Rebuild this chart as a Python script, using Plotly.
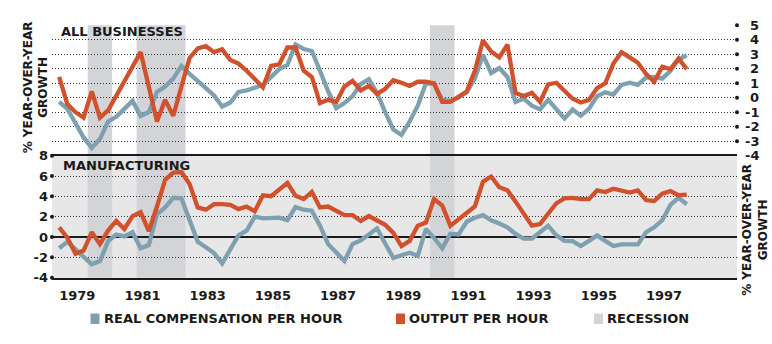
import numpy as np
import plotly.graph_objects as go

# Quarterly year-over-year growth, 1979Q1 - 1998Q2 (percent)
all_comp = [
    -0.29, -0.77, -1.75, -2.74,
    -3.46, -2.85, -1.64, -1.32,
    -0.77, -0.22, -1.25, -0.99,
    0.40, 0.77, 1.32, 2.19,
    1.64, 1.10, 0.66, 0.15,
    -0.61, -0.33, 0.40, 0.50,
    0.66, 0.88, 1.43, 1.97,
    2.25, 3.66, 3.36, 3.22,
    1.86, 0.44, -0.72, -0.37,
    0.11, 0.94, 1.27, 0.33,
    -0.99, -2.19, -2.57, -1.64,
    -0.55, 0.99, 0.95, -0.15,
    -0.22, 0.00, 0.37, 1.32,
    2.96, 1.69, 2.04, 1.43,
    -0.29, -0.07, -0.55, -0.81,
    -0.15, -0.77, -1.43, -0.81,
    -1.25, -0.77, 0.11, 0.37,
    0.22, 0.88, 1.03, 0.88,
    1.38, 1.43, 1.32, 1.86,
    2.63, 2.92,
]
all_output = [
    1.43, -0.44, -1.00, -1.38,
    0.44, -1.38, -0.88, 0.12,
    1.13, 2.14, 3.14, 0.75,
    -1.64, -0.15, -1.25, 0.77,
    2.74, 3.40, 3.55, 3.14,
    3.33, 2.60, 2.35, 1.86,
    1.30, 0.72, 2.20, 2.30,
    3.46, 3.46, 1.86, 1.43,
    -0.37, -0.15, -0.29, 0.77,
    1.16, 0.50, 0.81, 0.26,
    0.61, 1.20, 1.03, 0.81,
    1.10, 1.10, 0.99, -0.29,
    -0.29, 0.07, 0.42, 1.86,
    3.95, 3.18, 2.78, 3.66,
    0.33, 0.11, 0.33, -0.29,
    0.92, 1.03, 0.48, -0.07,
    -0.33, -0.15, 0.66, 0.99,
    2.35, 3.14, 2.78, 2.41,
    1.64, 1.10, 2.13, 1.97,
    2.70, 1.97,
]
mfg_comp = [
    -1.11, -0.47, -1.20, -1.96,
    -2.69, -2.37, -0.41, 0.25,
    0.06, 0.47, -1.11, -0.79,
    2.22, 2.91, 3.86, 3.80,
    1.74, -0.47, -1.01, -1.58,
    -2.59, -1.11, 0.16, 0.63,
    2.00, 1.84, 1.90, 1.90,
    1.65, 2.94, 2.69, 2.59,
    1.11, -0.70, -1.52, -2.37,
    -0.70, -0.32, 0.25, 0.85,
    -0.63, -2.06, -1.80, -1.55,
    -1.85, 0.79, -0.10, -1.11,
    0.32, 0.25, 1.50, 1.90,
    2.15, 1.65, 1.33, 0.95,
    0.30, -0.16, -0.16, 0.47,
    1.11, 0.16, -0.38, -0.41,
    -0.89, -0.38, 0.16, -0.38,
    -0.89, -0.73, -0.73, -0.73,
    0.47, 0.95, 1.65, 3.16,
    3.86, 3.23,
]
mfg_output = [
    0.95, -0.06, -1.65, -1.33,
    0.47, -0.70, 0.63, 1.58,
    0.79, 2.06, 2.44, 0.57,
    3.00, 5.63, 6.33, 6.39,
    5.22, 2.91, 2.69, 3.23,
    3.23, 3.16, 2.75, 3.00,
    2.53, 4.11, 4.02, 4.68,
    5.32, 4.05, 3.73, 4.43,
    2.91, 3.00, 2.53, 2.15,
    2.15, 1.58, 2.06, 1.58,
    1.20, 0.40, -0.89, -0.38,
    1.11, 1.42, 3.73, 3.10,
    1.11, 1.74, 2.37, 3.00,
    5.44, 5.95, 4.90, 4.59,
    3.48, 2.22, 1.11, 1.27,
    2.22, 3.32, 3.80, 3.86,
    3.73, 3.73, 4.59, 4.43,
    4.75, 4.53, 4.37, 4.59,
    3.64, 3.54, 4.27, 4.53,
    4.11, 4.18,
]

# Recessions (start, end) in fractional years
recessions = [(1980.0, 1980.75), (1981.5, 1983.0), (1990.5, 1991.25)]

year_labels = [1979, 1981, 1983, 1985, 1987, 1989, 1991, 1993, 1995, 1997]
top_ticks = [-4, -3, -2, -1, 0, 1, 2, 3, 4, 5]
bottom_ticks = [-4, -2, 0, 2, 4, 6, 8]

legend_names = ["REAL COMPENSATION PER HOUR", "OUTPUT PER HOUR", "RECESSION"]

# quarter midpoints
t = 1979.125 + 0.25 * np.arange(len(all_comp))

W, H = 772, 344
BLUE = "#7ea0af"
RED = "#d2512d"
GREY_BAND = "#d3d4d7"
PANEL_BG = "#e7e7e7"
INK = "#1a1a1a"
FONT = dict(family="DejaVu Sans", size=13, color=INK, weight="bold")
TITLE_FONT = dict(family="DejaVu Sans", size=12, color=INK, weight="bold")


def fx(x):
    return x / W


def fy(y):
    return 1 - y / H


X_LEFT, X_RIGHT = 52, 737
TOP_Y, MID_Y, BOT_Y = 19, 155.5, 283
XRANGE = [1978.905, 1999.917]

fig = go.Figure()

# top panel: all businesses
fig.add_trace(go.Scatter(x=t, y=all_comp, xaxis="x2", yaxis="y2", mode="lines",
                         line=dict(color=BLUE, width=4.3), showlegend=False))
fig.add_trace(go.Scatter(x=t, y=all_output, xaxis="x2", yaxis="y2", mode="lines",
                         line=dict(color=RED, width=4.3), showlegend=False))
# bottom panel: manufacturing
fig.add_trace(go.Scatter(x=t, y=mfg_comp, xaxis="x", yaxis="y", mode="lines",
                         line=dict(color=BLUE, width=4.3), showlegend=False))
fig.add_trace(go.Scatter(x=t, y=mfg_output, xaxis="x", yaxis="y", mode="lines",
                         line=dict(color=RED, width=4.3), showlegend=False))

# dots at the gridline ends
top_dot_ticks = [v for v in top_ticks if v > top_ticks[0]]
fig.add_trace(go.Scatter(x=[XRANGE[1]] * len(top_dot_ticks), y=top_dot_ticks,
                         xaxis="x2", yaxis="y2", mode="markers", cliponaxis=False,
                         marker=dict(color=INK, size=4), showlegend=False, hoverinfo="skip"))
fig.add_trace(go.Scatter(x=[XRANGE[0]] * len(bottom_ticks), y=bottom_ticks,
                         xaxis="x", yaxis="y", mode="markers", cliponaxis=False,
                         marker=dict(color=INK, size=4), showlegend=False, hoverinfo="skip"))

shapes = [dict(type="rect", xref="paper", yref="paper", x0=fx(X_LEFT), x1=fx(X_RIGHT),
               y0=fy(BOT_Y), y1=fy(MID_Y), fillcolor=PANEL_BG, line=dict(width=0),
               layer="below")]
for a, b in recessions:
    shapes.append(dict(type="rect", xref="x2", yref="y2 domain", x0=a, x1=b, y0=0, y1=1,
                       fillcolor=GREY_BAND, line=dict(width=0), layer="below"))
    shapes.append(dict(type="rect", xref="x", yref="y domain", x0=a, x1=b, y0=0, y1=1,
                       fillcolor=GREY_BAND, line=dict(width=0), layer="below"))

# legend swatches
legend_items = [(90.5, BLUE), (396, RED), (594, GREY_BAND)]
LEG_Y = 326
for (lx, col), name in zip(legend_items, legend_names):
    shapes.append(dict(type="rect", xref="paper", yref="paper", x0=fx(lx), x1=fx(lx + 9),
                       y0=fy(LEG_Y + 5.5), y1=fy(LEG_Y - 5.5), fillcolor=col,
                       line=dict(width=0)))

annotations = []
for (lx, col), name in zip(legend_items, legend_names):
    annotations.append(dict(xref="paper", yref="paper", x=fx(lx + 11), y=fy(LEG_Y),
                            xanchor="left", yanchor="middle", text=name, showarrow=False,
                            font=FONT))

for v in top_ticks:
    annotations.append(dict(xref="paper", yref="y2", x=fx(761), y=v, xanchor="right",
                            yanchor="middle", text=str(v), showarrow=False, font=FONT))

annotations += [
    dict(xref="paper", yref="paper", x=fx(59), y=fy(26), xanchor="left", yanchor="middle",
         text="ALL BUSINESSES", showarrow=False, font=FONT),
    dict(xref="paper", yref="paper", x=fx(61), y=fy(166), xanchor="left", yanchor="middle",
         text="MANUFACTURING", showarrow=False, font=FONT),
    dict(xref="paper", yref="paper", x=fx(36), y=fy(84), xanchor="center", yanchor="middle",
         text="% YEAR-OVER-YEAR<br>GROWTH", textangle=-90, showarrow=False, font=TITLE_FONT),
    dict(xref="paper", yref="paper", x=fx(755), y=fy(233), xanchor="center", yanchor="middle",
         text="% YEAR-OVER-YEAR<br>GROWTH", textangle=-90, showarrow=False, font=TITLE_FONT),
]

grid = dict(showgrid=True, gridcolor="#333333", gridwidth=1, griddash="1px,2px")

fig.update_layout(
    width=W, height=H,
    margin=dict(l=0, r=0, t=0, b=0),
    paper_bgcolor="white", plot_bgcolor="rgba(0,0,0,0)",
    font=FONT,
    shapes=shapes, annotations=annotations,
    xaxis=dict(domain=[fx(X_LEFT), fx(X_RIGHT)], range=XRANGE, anchor="y",
               showgrid=False, zeroline=False, showline=True, mirror=True,
               linecolor=INK, linewidth=1.5,
               tickvals=[y + 0.68 for y in year_labels], ticktext=[str(y) for y in year_labels],
               ticks="", tickfont=FONT, ticklabelstandoff=5),
    yaxis=dict(domain=[fy(BOT_Y), fy(MID_Y)], range=[-4, 8], anchor="x",
               tickvals=bottom_ticks, ticktext=[str(v) for v in bottom_ticks],
               ticks="", tickfont=FONT, ticklabelstandoff=3,
               zeroline=True, zerolinecolor=INK, zerolinewidth=1.5,
               **grid),
    xaxis2=dict(domain=[fx(X_LEFT), fx(X_RIGHT)], range=XRANGE, anchor="y2", matches="x",
                showgrid=False, zeroline=False, showticklabels=False, showline=False),
    yaxis2=dict(domain=[fy(MID_Y), fy(TOP_Y)], range=[-4, 5], anchor="x2",
                tickvals=top_ticks, showticklabels=False, zeroline=False, **grid),
)

fig.write_html("out.html")
